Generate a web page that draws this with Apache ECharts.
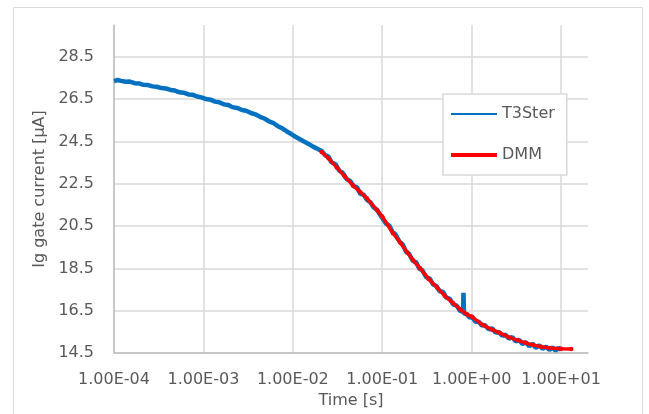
<!DOCTYPE html>
<html>
<head>
<meta charset="utf-8">
<script src="https://cdn.jsdelivr.net/npm/echarts@6/dist/echarts.min.js"></script>
<style>
    html, body { margin: 0; padding: 0; background: #fff; }
    #chart { width: 649px; height: 414px; }
</style>
</head>
<body>
<div id="chart"></div>
<script>
// ============================================
// 数据
// ============================================

// T3Ster 测量: 时间 [s] / 栅极电流 [µA]
const t3sterTime = [
    1.0e-4, 1.1e-4, 1.2e-4, 1.35e-4, 1.5e-4, 1.7e-4, 1.9e-4, 2.1e-4, 2.4e-4, 2.7e-4,
    3.0e-4, 3.4e-4, 3.8e-4, 4.3e-4, 4.8e-4, 5.4e-4, 6.0e-4, 6.8e-4, 7.6e-4, 8.5e-4,
    9.5e-4, 1.07e-3, 1.2e-3, 1.35e-3, 1.5e-3, 1.7e-3, 1.9e-3, 2.1e-3, 2.4e-3, 2.7e-3,
    3.0e-3, 3.4e-3, 3.8e-3, 4.3e-3, 4.8e-3, 5.4e-3, 6.0e-3, 6.8e-3, 7.6e-3, 8.5e-3,
    9.5e-3, 1.07e-2, 1.2e-2, 1.35e-2, 1.5e-2, 1.7e-2, 1.9e-2,
    0.021, 0.023, 0.025, 0.027, 0.030, 0.033, 0.036, 0.040, 0.044, 0.048,
    0.052, 0.057, 0.062, 0.068, 0.074, 0.080, 0.087, 0.095, 0.100, 0.110,
    0.120, 0.130, 0.140, 0.155, 0.170, 0.185, 0.200, 0.220, 0.240, 0.260,
    0.280, 0.310, 0.340, 0.370, 0.400, 0.440, 0.480, 0.520, 0.570, 0.620,
    0.680, 0.740, 0.800, 0.810, 0.820, 0.880, 0.950, 1.02, 1.10, 1.20,
    1.30, 1.40, 1.55, 1.70, 1.85, 2.00, 2.20, 2.40, 2.60, 2.85,
    3.10, 3.40, 3.70, 4.00, 4.40, 4.80, 5.20, 5.70, 6.20, 6.80,
    7.40, 8.00, 8.70, 9.40, 10.0
];
const t3sterCurrent = [
    27.35, 27.40, 27.36, 27.32, 27.33, 27.25, 27.24, 27.18, 27.16, 27.10,
    27.08, 27.02, 27.00, 26.93, 26.90, 26.82, 26.80, 26.72, 26.70, 26.62,
    26.58, 26.50, 26.47, 26.38, 26.35, 26.25, 26.22, 26.12, 26.08, 25.98,
    25.95, 25.84, 25.78, 25.66, 25.58, 25.45, 25.38, 25.22, 25.12, 24.98,
    24.86, 24.72, 24.60, 24.48, 24.38, 24.24, 24.14,
    24.05, 23.85, 23.78, 23.52, 23.42, 23.12, 23.02, 22.72, 22.62, 22.38,
    22.34, 22.02, 21.98, 21.72, 21.62, 21.38, 21.28, 21.02, 20.98, 20.62,
    20.52, 20.22, 20.12, 19.78, 19.62, 19.28, 19.18, 18.85, 18.78, 18.48,
    18.42, 18.08, 18.02, 17.74, 17.68, 17.42, 17.38, 17.12, 17.06, 16.80,
    16.74, 16.50, 16.44, 17.35, 16.36, 16.34, 16.18, 16.20, 15.98, 15.98,
    15.80, 15.82, 15.62, 15.66, 15.46, 15.50, 15.32, 15.36, 15.18, 15.26,
    15.04, 15.12, 14.92, 15.02, 14.82, 14.94, 14.74, 14.86, 14.70, 14.80,
    14.64, 14.76, 14.62, 14.74, 14.66
];

// DMM 测量
const dmmTime = [
    0.021, 0.025, 0.031, 0.038, 0.047, 0.057, 0.0676, 0.0875, 0.1, 0.132,
    0.16, 0.19, 0.22, 0.265, 0.33, 0.41, 0.5, 0.62, 0.75, 0.89,
    1.0, 1.34, 1.7, 2.08, 2.6, 3.22, 4.0, 4.86, 6.0, 7.5,
    10, 13
];
const dmmCurrent = [
    24.00, 23.70, 23.27, 22.85, 22.42, 22.10, 21.80, 21.25, 20.95, 20.16,
    19.70, 19.26, 18.90, 18.50, 18.00, 17.60, 17.20, 16.86, 16.55, 16.32,
    16.22, 15.82, 15.60, 15.44, 15.25, 15.11, 14.98, 14.88, 14.80, 14.74,
    14.70, 14.69
];

const seriesNames = ['T3Ster', 'DMM'];

// ============================================
// 工具函数
// ============================================

/**
 * 格式化为Excel风格的科学计数法, 如 1.00E-04
 * @param {number} v - 数值
 * @returns {string}
 */
function excelExp(v) {
    const [mant, exp] = v.toExponential(2).toUpperCase().split('E');
    const sign = exp[0] === '-' ? '-' : '+';
    const digits = exp.replace(/[+-]/, '').padStart(2, '0');
    return mant + 'E' + sign + digits;
}

function zip(xs, ys) {
    return xs.map((x, i) => [x, ys[i]]);
}

// ============================================
// 图表
// ============================================

const textColor = '#595959';
const gridColor = '#d9d9d9';
const blue = '#0070c0';
const red = '#ff0000';
const fontFamily = 'DejaVu Sans';

const chart = echarts.init(document.getElementById('chart'), null, { renderer: 'canvas' });

chart.setOption({
    animation: false,
    backgroundColor: '#fff',
    textStyle: { fontFamily: fontFamily, color: textColor },
    graphic: [{
        type: 'rect',
        shape: { x: 13.5, y: 7.5, width: 629, height: 420 },
        style: { fill: 'none', stroke: gridColor, lineWidth: 1 },
        silent: true
    }],
    grid: { left: 114, right: 61, top: 25, bottom: 61 },
    legend: {
        orient: 'vertical',
        left: 443,
        top: 94,
        padding: [12, 12, 12, 8],
        itemWidth: 46,
        itemHeight: 14,
        itemGap: 25,
        borderColor: gridColor,
        borderWidth: 1.5,
        backgroundColor: '#fff',
        textStyle: { fontFamily: fontFamily, fontSize: 16, color: textColor },
        data: [
            { name: seriesNames[0], icon: 'path://M0,6L46,6L46,8L0,8Z', itemStyle: { color: blue } },
            { name: seriesNames[1], icon: 'path://M0,5L46,5L46,9L0,9Z', itemStyle: { color: red } }
        ]
    },
    xAxis: {
        type: 'log',
        logBase: 10,
        min: 1e-4,
        max: 20,
        name: 'Time [s]',
        nameLocation: 'middle',
        nameGap: 34,
        nameTextStyle: { fontFamily: fontFamily, fontSize: 16, color: textColor },
        axisLine: { show: true, lineStyle: { color: '#bfbfbf', width: 1.5 } },
        axisTick: { show: false },
        axisLabel: {
            margin: 19,
            fontSize: 16,
            color: textColor,
            showMaxLabel: false,
            formatter: excelExp
        },
        splitLine: { show: true, showMaxLine: false, lineStyle: { color: gridColor, width: 1.5 } },
        minorTick: { show: false },
        minorSplitLine: { show: false }
    },
    yAxis: {
        type: 'value',
        min: 14.5,
        max: 30,
        interval: 2,
        name: 'Ig gate current [µA]',
        nameLocation: 'middle',
        nameGap: 64,
        nameTextStyle: { fontFamily: fontFamily, fontSize: 16, color: textColor },
        axisLine: { show: true, lineStyle: { color: '#bfbfbf', width: 1.5 } },
        axisTick: { show: false },
        axisLabel: {
            margin: 20,
            fontSize: 16,
            color: textColor,
            showMaxLabel: false,
            formatter: v => v.toFixed(1)
        },
        splitLine: { show: true, showMaxLine: false, lineStyle: { color: gridColor, width: 1.5 } }
    },
    series: [
        {
            name: seriesNames[0],
            type: 'line',
            data: zip(t3sterTime, t3sterCurrent),
            showSymbol: false,
            symbol: 'none',
            lineStyle: { color: blue, width: 4.5 },
            itemStyle: { color: blue },
            z: 2
        },
        {
            name: seriesNames[1],
            type: 'line',
            data: zip(dmmTime, dmmCurrent),
            symbol: 'circle',
            symbolSize: 4.5,
            lineStyle: { color: red, width: 3.5 },
            itemStyle: { color: red },
            z: 3
        }
    ]
});
</script>
</body>
</html>
